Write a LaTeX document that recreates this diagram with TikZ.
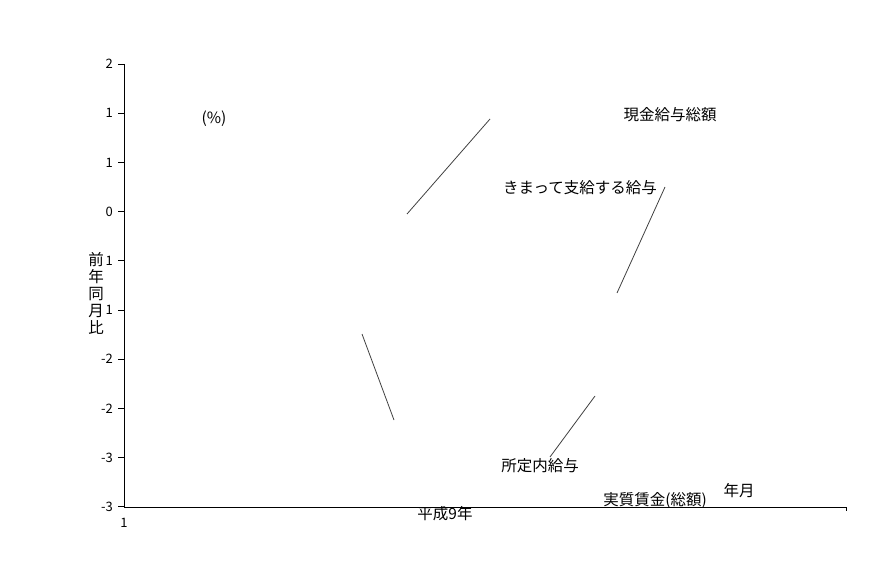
\documentclass[tikz,border=0pt]{standalone}
\usepackage{fontspec}
\setmainfont{Noto Sans CJK JP}
\usetikzlibrary{positioning, calc}

\begin{document}
\begin{tikzpicture}[x=1pt, y=-1pt, >=stealth,
    lbl/.style={inner sep=0pt, font=\fontsize{15.5}{15.5}\selectfont},
    ticklbl/.style={inner sep=0pt, anchor=east, font=\fontsize{13}{13}\selectfont},
    series/.style={draw=black!75, line width=0.8pt}]
      \useasboundingbox (0,0) rectangle (892,586);

      % axes
      \coordinate (origin) at (124,507);
      \coordinate (ytop) at (124,64);
      \coordinate (xend) at (846,507);
      \draw[line width=0.8pt] (ytop) -- (origin) -- (xend) -- ++(0,4);

      \foreach \v [count=\i from 0] in {2,1,1,0,1,1,-2,-2,-3,-3} {
        \draw[line width=0.8pt] (118, 64+\i*49.2) -- (124, 64+\i*49.2);
        \node[ticklbl] at (113, 64+\i*49.2) {\v};
      }
      \node[ticklbl, anchor=center] at (124,523) {1};

      % series lines
      \coordinate (a1) at (407,214); \coordinate (a2) at (490,119);
      \coordinate (b1) at (665,187); \coordinate (b2) at (617,293);
      \coordinate (c1) at (362,334); \coordinate (c2) at (394,420);
      \coordinate (d1) at (595,396); \coordinate (d2) at (550,457);
      \draw[series] (a1) -- (a2);
      \draw[series] (b1) -- (b2);
      \draw[series] (c1) -- (c2);
      \draw[series] (d1) -- (d2);

      % labels
      \node[lbl] (unit) at (214,119) {(\%)};
      \node[lbl] (total) at (670,115) {現金給与総額};
      \node[lbl] (fixed) at (580,188) {きまって支給する給与};
      \node[lbl] (sched) at (540,466) {所定内給与};
      \node[lbl] (real) at (655,500) {実質賃金(総額)};
      \node[lbl] (ym) at (739,491) {年月};
      \node[lbl] (year) at (445,514) {平成9年};
      \node[lbl, align=center, font=\fontsize{15.5}{17}\selectfont] (ratio) at (96,293)
        {前\\年\\同\\月\\比};

    \end{tikzpicture}
\end{document}
